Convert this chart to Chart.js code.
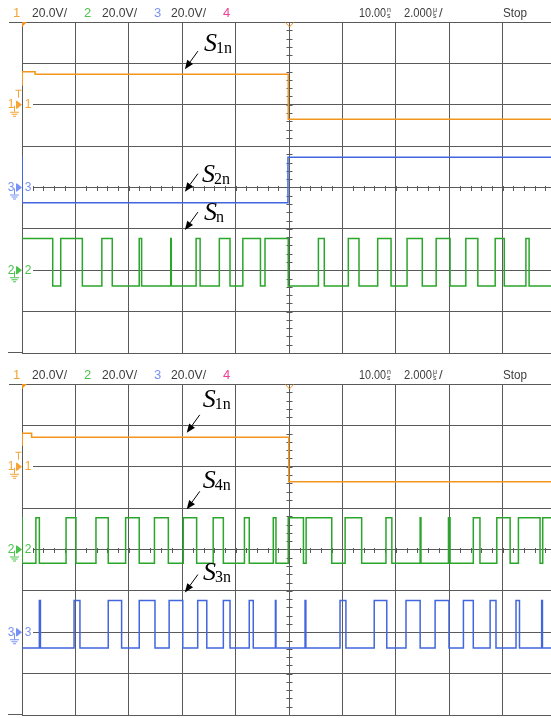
<!DOCTYPE html>
<html><head><meta charset="utf-8">
<script src="https://cdn.jsdelivr.net/npm/chart.js@4/dist/chart.umd.min.js"></script>
<style>
html,body{margin:0;padding:0;background:#fff;overflow:hidden;width:551px;height:718px}
canvas{position:absolute;left:0}
#topScope{top:0}
#botScope{top:362px}
</style></head>
<body>
<canvas id="topScope" width="551" height="356"></canvas>
<canvas id="botScope" width="551" height="356"></canvas>
<script>
// ---------------- DATA (time in µs, 2 µs/div; levels in divisions) ----------------
const timePerDiv = 2;
const timeSpan = 19.81;               // visible part of the 10-division screen
const triggerTime = 10;

const headerChannels = ['1', '2', '3', '4'];
const headerScales = ['20.0V/', '20.0V/', '20.0V/', ''];
const headerDelay = '10.00';
const headerTimebase = '2.000';
const headerState = 'Stop';

// top panel
const topCh1Time  = [0, 0.01, 0.49, 9.97];
const topCh1Level = [2.48, 2.80, 2.74, 1.65];
const topCh3Levels = [0.73, -0.37];          // [high, low]
const topCh3Edges  = [0.01, 9.96];
const topCh2Levels = [-1.23, -2.38];
const topCh2Edges  = [1.15, 1.45, 2.26, 2.99, 3.38, 4.39, 4.48, 5.57, 5.59, 6.52, 6.67, 7.39, 7.79,
                      8.27, 8.93, 9.10, 9.97, 11.10, 11.32, 12.22, 12.62, 13.32, 13.82, 14.42, 14.99,
                      15.51, 16.03, 16.62, 17.07, 17.72, 18.06, 18.87, 18.99];

// bottom panel
const botCh1Time  = [0, 0.01, 0.36, 9.99];
const botCh1Level = [2.52, 2.81, 2.71, 1.64];
const botCh2Levels = [0.77, -0.33];
const botCh2Edges  = [0.01, 0.52, 0.65, 1.65, 2.02, 2.77, 3.23, 3.88, 4.39, 4.96, 5.48, 6.04, 6.54,
                      7.16, 7.54, 8.33, 8.51, 9.41, 9.51, 9.97, 10.54, 10.64, 11.60, 12.10, 12.72,
                      13.63, 13.85, 14.91, 14.94, 15.97, 16.03, 16.90, 17.15, 17.78, 18.28, 18.59,
                      19.40, 19.50];
const botCh3Levels = [-1.23, -2.38];
const botCh3Edges  = [0.65, 0.69, 1.95, 2.17, 3.23, 3.73, 4.39, 4.98, 5.51, 6.02, 6.58, 6.92, 7.54,
                      7.79, 8.51, 8.66, 9.49, 9.51, 10.60, 10.63, 11.91, 12.13, 13.19, 13.66, 14.38,
                      14.91, 15.47, 15.99, 16.53, 16.90, 17.53, 17.75, 18.50, 18.63, 19.46, 19.49];

const topGroundLevels = {ch1: 2, ch3: 0, ch2: -2};
const botGroundLevels = {ch1: 2, ch2: 0, ch3: -2};

const topLabels = [['S', '1n'], ['S', '2n'], ['S', 'n']];
const topLabelTimes = [6.10, 6.10, 6.10];
const topLabelLevels = [2.86, -0.10, -1.03];
const botLabels = [['S', '1n'], ['S', '4n'], ['S', '3n']];
const botLabelTimes = [6.17, 6.17, 6.10];
const botLabelLevels = [2.82, 0.97, -1.04];

// ---------------- STYLE ----------------
const TRACE = {ch1: '#f2961e', ch2: '#2aa62a', ch3: '#4266de', ch4: '#ee2a8a'};
const LABEL = {ch1: '#f6a436', ch2: '#4cc24c', ch3: '#7891f4', ch4: '#ef3d95'};
const GRID = '#5a5a5a';

function pointsFrom(times, levels) {
  const pts = times.map((t, i) => ({x: t, y: levels[i]}));
  pts.push({x: timeSpan, y: levels[levels.length - 1]});
  return pts;
}
function squareWave(startHigh, edges, levels) {
  let hi = startHigh;
  const pts = [{x: 0, y: hi ? levels[0] : levels[1]}];
  edges.forEach(t => { hi = !hi; pts.push({x: t, y: hi ? levels[0] : levels[1]}); });
  pts.push({x: timeSpan, y: pts[pts.length - 1].y});
  return pts;
}
function ds(data, color) {
  return {data, borderColor: color, borderWidth: 1.5, stepped: 'before', pointRadius: 0,
          fill: false, tension: 0, borderCapStyle: 'butt', borderJoinStyle: 'miter'};
}

function drawHeader(ctx) {
  ctx.save();
  ctx.textBaseline = 'middle';
  ctx.font = '13px "Liberation Sans", Arial, sans-serif';
  const y = 13;
  const numX = [13, 84, 154, 223];
  const scaleX = [32, 102, 171];
  const cols = [LABEL.ch1, LABEL.ch2, LABEL.ch3, LABEL.ch4];
  headerChannels.forEach((c, i) => {
    ctx.fillStyle = cols[i];
    ctx.fillText(c, numX[i], y);
    if (headerScales[i]) {
      ctx.fillStyle = '#3c3c3c';
      ctx.fillText(headerScales[i], scaleX[i], y, 35);
    }
  });
  ctx.fillStyle = '#3c3c3c';
  ctx.fillText(headerDelay, 359, y, 27);
  ctx.fillText(headerTimebase, 404, y, 28);
  ctx.fillText('/', 439, y, 5);
  ctx.fillText(headerState, 503, y, 24);
  ctx.font = '7px "Liberation Sans", Arial, sans-serif';
  ctx.fillText('n', 387, y - 3, 5);
  ctx.fillText('s', 387, y + 3, 5);
  ctx.fillText('μ', 433, y - 3, 5);
  ctx.fillText('s', 433, y + 3, 5);
  ctx.restore();
}

function drawGroundMarker(ctx, y, ch, color, trig) {
  ctx.save();
  ctx.fillStyle = '#fff';
  ctx.fillRect(23, y - 6, 10, 12);
  ctx.fillStyle = color;
  ctx.strokeStyle = color;
  ctx.font = '12px "Liberation Sans", Arial, sans-serif';
  ctx.textBaseline = 'middle';
  ctx.textAlign = 'center';
  ctx.fillText(ch, 11, y);
  ctx.fillText(ch, 28, y);
  ctx.lineWidth = 1;
  ctx.beginPath();
  ctx.moveTo(16.5, y - 4); ctx.lineTo(16.5, y + 4);
  ctx.stroke();
  ctx.beginPath();
  ctx.moveTo(17, y - 4); ctx.lineTo(22, y); ctx.lineTo(17, y + 4); ctx.closePath();
  ctx.fill();
  ctx.beginPath();
  ctx.moveTo(14.5, y + 1); ctx.lineTo(14.5, y + 7);
  ctx.moveTo(10, y + 7.5); ctx.lineTo(19, y + 7.5);
  ctx.moveTo(11.5, y + 9.5); ctx.lineTo(17.5, y + 9.5);
  ctx.moveTo(13, y + 11.5); ctx.lineTo(16, y + 11.5);
  ctx.stroke();
  if (trig) {
    ctx.beginPath();
    ctx.moveTo(15.5, y - 14.5); ctx.lineTo(21.5, y - 14.5);
    ctx.moveTo(18.5, y - 14.5); ctx.lineTo(18.5, y - 7);
    ctx.stroke();
  }
  ctx.restore();
}

function drawLabel(ctx, tip, lab) {
  ctx.save();
  const tail = {x: tip.x + 13, y: tip.y - 18};
  const ang = Math.atan2(tip.y - tail.y, tip.x - tail.x);
  const hl = 9, hw = 3.6;
  const bx = tip.x - hl * Math.cos(ang), by = tip.y - hl * Math.sin(ang);
  ctx.strokeStyle = '#000'; ctx.fillStyle = '#000'; ctx.lineWidth = 1;
  ctx.beginPath(); ctx.moveTo(tail.x, tail.y); ctx.lineTo(bx, by); ctx.stroke();
  ctx.beginPath();
  ctx.moveTo(tip.x, tip.y);
  ctx.lineTo(bx + hw * Math.sin(ang), by - hw * Math.cos(ang));
  ctx.lineTo(bx - hw * Math.sin(ang), by + hw * Math.cos(ang));
  ctx.closePath(); ctx.fill();
  ctx.textBaseline = 'alphabetic';
  ctx.font = 'italic 26px "Liberation Serif", "Times New Roman", serif';
  const sx = tip.x + lab.dx, sy = tip.y + lab.dy;
  ctx.fillText(lab.main, sx, sy);
  const w = ctx.measureText(lab.main).width;
  ctx.font = '16px "Liberation Serif", "Times New Roman", serif';
  ctx.fillText(lab.sub, sx + w - 1, sy + 2);
  ctx.restore();
}

function makeScope(id, datasets, grounds, labels, labelTimes, labelLevels, labelOffsets) {
  const scopePlugin = {
    id: 'scope',
    beforeDatasetsDraw(chart) {
      const ctx = chart.ctx, a = chart.chartArea;
      const xs = chart.scales.x, ys = chart.scales.y;
      ctx.save();
      ctx.strokeStyle = GRID; ctx.lineWidth = 1;
      ctx.beginPath();
      ctx.moveTo(9, Math.round(a.top) + 0.5); ctx.lineTo(a.left, Math.round(a.top) + 0.5);
      ctx.moveTo(8, Math.round(a.bottom) - 0.5); ctx.lineTo(a.left, Math.round(a.bottom) - 0.5);
      ctx.stroke();
      const cx = Math.round(xs.getPixelForValue(triggerTime)) + 0.5;
      const cy = Math.round(ys.getPixelForValue(0)) + 0.5;
      ctx.beginPath();
      for (let v = -4; v <= 4.001; v += 0.2) {
        const y = Math.round(ys.getPixelForValue(v)) + 0.5;
        ctx.moveTo(cx - 3, y); ctx.lineTo(cx + 3, y);
      }
      for (let t = 0; t <= timeSpan; t += timePerDiv / 5) {
        const x = Math.round(xs.getPixelForValue(t)) + 0.5;
        ctx.moveTo(x, cy - 2.5); ctx.lineTo(x, cy + 2.5);
      }
      ctx.stroke();
      drawGroundMarker(ctx, ys.getPixelForValue(grounds.ch1), '1', LABEL.ch1, true);
      drawGroundMarker(ctx, ys.getPixelForValue(grounds.ch2), '2', LABEL.ch2, false);
      drawGroundMarker(ctx, ys.getPixelForValue(grounds.ch3), '3', LABEL.ch3, false);
      ctx.fillStyle = TRACE.ch1;
      ctx.beginPath();
      ctx.moveTo(a.left, a.top); ctx.lineTo(a.left + 5, a.top); ctx.lineTo(a.left, a.top + 5); ctx.closePath();
      ctx.fill();
      ctx.strokeStyle = TRACE.ch1;
      ctx.beginPath();
      ctx.moveTo(cx - 4, a.top + 0.5); ctx.lineTo(cx, a.top + 5); ctx.lineTo(cx + 4, a.top + 0.5);
      ctx.stroke();
      ctx.restore();
    },
    afterDraw(chart) {
      const ctx = chart.ctx;
      const xs = chart.scales.x, ys = chart.scales.y;
      drawHeader(ctx);
      labels.forEach((l, i) => {
        const tip = {x: xs.getPixelForValue(labelTimes[i]), y: ys.getPixelForValue(labelLevels[i])};
        drawLabel(ctx, tip, {main: l[0], sub: l[1], dx: labelOffsets[i][0], dy: labelOffsets[i][1]});
      });
    }
  };
  return new Chart(document.getElementById(id), {
    type: 'line',
    data: {datasets},
    plugins: [scopePlugin],
    options: {
      responsive: false, animation: false, devicePixelRatio: 1,
      layout: {padding: {left: 22, top: 22, right: 0, bottom: 3}},
      plugins: {legend: {display: false}, tooltip: {enabled: false}},
      parsing: false,
      scales: {
        x: {type: 'linear', min: 0, max: timeSpan,
            ticks: {display: false, stepSize: timePerDiv, includeBounds: false},
            grid: {color: GRID, lineWidth: 1, drawTicks: false},
            border: {display: true, color: GRID}},
        y: {type: 'linear', min: -4, max: 4,
            ticks: {display: false, stepSize: 1},
            grid: {color: GRID, lineWidth: 1, drawTicks: false},
            border: {display: true, color: GRID}}
      }
    }
  });
}

makeScope('topScope', [
  ds(pointsFrom(topCh1Time, topCh1Level), TRACE.ch1),
  ds(squareWave(true, topCh3Edges, topCh3Levels), TRACE.ch3),
  ds(squareWave(true, topCh2Edges, topCh2Levels), TRACE.ch2)
], topGroundLevels, topLabels, topLabelTimes, topLabelLevels, [[19, -18.5], [17, -10], [19, -10]]);

makeScope('botScope', [
  ds(pointsFrom(botCh1Time, botCh1Level), TRACE.ch1),
  ds(squareWave(true, botCh2Edges, botCh2Levels), TRACE.ch2),
  ds(squareWave(false, botCh3Edges, botCh3Levels), TRACE.ch3)
], botGroundLevels, botLabels, botLabelTimes, botLabelLevels, [[16, -26], [16, -21], [18, -12.5]]);
</script>
</body></html>
